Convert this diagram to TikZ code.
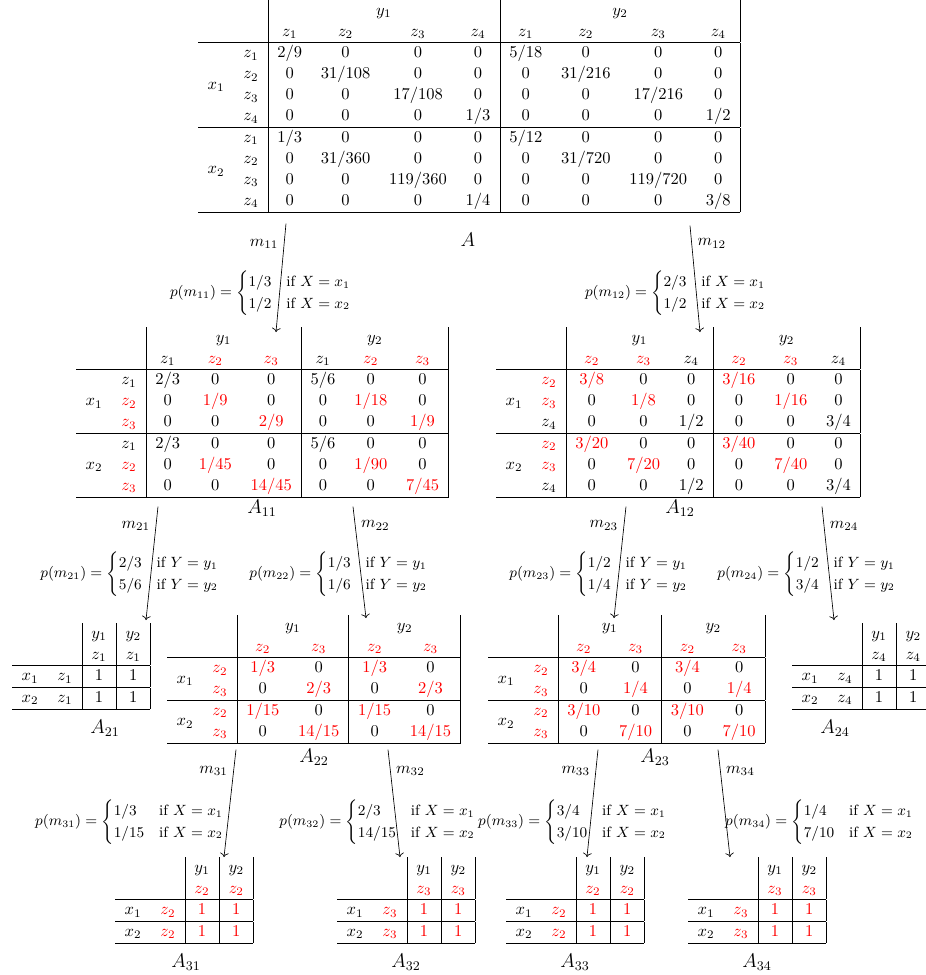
\documentclass[tikz,border=0pt]{standalone}
\usepackage{amsmath}
\usetikzlibrary{calc,arrows.meta}
\definecolor{kept}{HTML}{FF0000}
\newcommand{\kp}[1]{\textcolor{kept}{#1}}
\newcommand{\lowlbl}[1]{\raisebox{-6.4pt}[0pt][0pt]{$#1$}}
\renewcommand{\arraystretch}{1.06}
\setlength{\arraycolsep}{5.7pt}

\begin{document}
\begin{tikzpicture}[x=0.606pt,y=-0.606pt,
  tab/.style={inner sep=0pt,anchor=north west},
  tablbl/.style={font=\large},
  prob/.style={font=\small},
  mapline/.style={->}]
\useasboundingbox (0,0) rectangle (926,975);
% level 0
\node[tab] (A) at (198,0) {$\begin{array}{cc|cccc|cccc|}
 & & \multicolumn{4}{c|}{y_1} & \multicolumn{4}{c|}{y_2}\\
 & & z_1 & z_2 & z_3 & z_4 & z_1 & z_2 & z_3 & z_4\\ \hline
 & z_1 & 2/9 & 0 & 0 & 0 & 5/18 & 0 & 0 & 0\\
 \lowlbl{x_1} & z_2 & 0 & 31/108 & 0 & 0 & 0 & 31/216 & 0 & 0\\
 & z_3 & 0 & 0 & 17/108 & 0 & 0 & 0 & 17/216 & 0\\
 & z_4 & 0 & 0 & 0 & 1/3 & 0 & 0 & 0 & 1/2\\ \hline
 & z_1 & 1/3 & 0 & 0 & 0 & 5/12 & 0 & 0 & 0\\
 \lowlbl{x_2} & z_2 & 0 & 31/360 & 0 & 0 & 0 & 31/720 & 0 & 0\\
 & z_3 & 0 & 0 & 119/360 & 0 & 0 & 0 & 119/720 & 0\\
 & z_4 & 0 & 0 & 0 & 1/4 & 0 & 0 & 0 & 3/8\\ \hline
\end{array}$};
\node[tablbl] (lA) at (468,240) {$A$};

% level 1
\node[tab] (A11) at (76,327) {$\begin{array}{cc|ccc|ccc|}
 & & \multicolumn{3}{c|}{y_1} & \multicolumn{3}{c|}{y_2}\\
 & & z_1 & \kp{z_2} & \kp{z_3} & z_1 & \kp{z_2} & \kp{z_3}\\ \hline
 & z_1 & 2/3 & 0 & 0 & 5/6 & 0 & 0\\
 x_1 & \kp{z_2} & 0 & \kp{1/9} & 0 & 0 & \kp{1/18} & 0\\
 & \kp{z_3} & 0 & 0 & \kp{2/9} & 0 & 0 & \kp{1/9}\\ \hline
 & z_1 & 2/3 & 0 & 0 & 5/6 & 0 & 0\\
 x_2 & \kp{z_2} & 0 & \kp{1/45} & 0 & 0 & \kp{1/90} & 0\\
 & \kp{z_3} & 0 & 0 & \kp{14/45} & 0 & 0 & \kp{7/45}\\ \hline
\end{array}$};
\node[tablbl] (lA11) at (262,508) {$A_{11}$};

\node[tab] (A12) at (496,327) {$\begin{array}{cc|ccc|ccc|}
 & & \multicolumn{3}{c|}{y_1} & \multicolumn{3}{c|}{y_2}\\
 & & \kp{z_2} & \kp{z_3} & z_4 & \kp{z_2} & \kp{z_3} & z_4\\ \hline
 & \kp{z_2} & \kp{3/8} & 0 & 0 & \kp{3/16} & 0 & 0\\
 x_1 & \kp{z_3} & 0 & \kp{1/8} & 0 & 0 & \kp{1/16} & 0\\
 & z_4 & 0 & 0 & 1/2 & 0 & 0 & 3/4\\ \hline
 & \kp{z_2} & \kp{3/20} & 0 & 0 & \kp{3/40} & 0 & 0\\
 x_2 & \kp{z_3} & 0 & \kp{7/20} & 0 & 0 & \kp{7/40} & 0\\
 & z_4 & 0 & 0 & 1/2 & 0 & 0 & 3/4\\ \hline
\end{array}$};
\node[tablbl] (lA12) at (680,508) {$A_{12}$};

\draw[mapline] ($(A.south west)+(88,11)$) -- node[pos=.19,left] (lm11) {$m_{11}$} ($(A11.north west)+(200,5)$);
\draw[mapline] ($(A.south west)+(492,13)$) -- node[pos=.17,right] (lm12) {$m_{12}$} ($(A12.north west)+(204,5)$);
\node[prob] (pm11) at (261,293) {$p(m_{11})=\begin{cases}1/3 & \text{if } X=x_1\\ 1/2 & \text{if } X=x_2\end{cases}$};
\node[prob] (pm12) at (676,293) {$p(m_{12})=\begin{cases}2/3 & \text{if } X=x_1\\ 1/2 & \text{if } X=x_2\end{cases}$};

% level 2
\node[tab] (A21) at (12,623) {$\begin{array}{cc|c|c|}
 & & y_1 & y_2\\
 & & z_1 & z_1\\ \hline
 x_1 & z_1 & 1 & 1\\ \hline
 x_2 & z_1 & 1 & 1\\ \hline
\end{array}$};
\node[tablbl] (lA21) at (105,728) {$A_{21}$};

\node[tab] (A22) at (167,615) {$\begin{array}{cc|cc|cc|}
 & & \multicolumn{2}{c|}{y_1} & \multicolumn{2}{c|}{y_2}\\
 & & \kp{z_2} & \kp{z_3} & \kp{z_2} & \kp{z_3}\\ \hline
 \lowlbl{x_1} & \kp{z_2} & \kp{1/3} & 0 & \kp{1/3} & 0\\
 & \kp{z_3} & 0 & \kp{2/3} & 0 & \kp{2/3}\\ \hline
 \lowlbl{x_2} & \kp{z_2} & \kp{1/15} & 0 & \kp{1/15} & 0\\
 & \kp{z_3} & 0 & \kp{14/15} & 0 & \kp{14/15}\\ \hline
\end{array}$};
\node[tablbl] (lA22) at (314,757) {$A_{22}$};

\node[tab] (A23) at (488,615) {$\begin{array}{cc|cc|cc|}
 & & \multicolumn{2}{c|}{y_1} & \multicolumn{2}{c|}{y_2}\\
 & & \kp{z_2} & \kp{z_3} & \kp{z_2} & \kp{z_3}\\ \hline
 \lowlbl{x_1} & \kp{z_2} & \kp{3/4} & 0 & \kp{3/4} & 0\\
 & \kp{z_3} & 0 & \kp{1/4} & 0 & \kp{1/4}\\ \hline
 \lowlbl{x_2} & \kp{z_2} & \kp{3/10} & 0 & \kp{3/10} & 0\\
 & \kp{z_3} & 0 & \kp{7/10} & 0 & \kp{7/10}\\ \hline
\end{array}$};
\node[tablbl] (lA23) at (655,757) {$A_{23}$};

\node[tab] (A24) at (792,623) {$\begin{array}{cc|c|c|}
 & & y_1 & y_2\\
 & & z_4 & z_4\\ \hline
 x_1 & z_4 & 1 & 1\\ \hline
 x_2 & z_4 & 1 & 1\\ \hline
\end{array}$};
\node[tablbl] (lA24) at (835,728) {$A_{24}$};

\draw[mapline] ($(A11.south west)+(82,9)$) -- node[pos=.17,left] (lm21) {$m_{21}$} ($(A21.north west)+(134,-3)$);
\draw[mapline] ($(A11.south west)+(277,9)$) -- node[pos=.17,right] (lm22) {$m_{22}$} ($(A22.north west)+(199,3)$);
\draw[mapline] ($(A12.south west)+(130,9)$) -- node[pos=.17,left] (lm23) {$m_{23}$} ($(A23.north west)+(126,3)$);
\draw[mapline] ($(A12.south west)+(326,9)$) -- node[pos=.17,right] (lm24) {$m_{24}$} ($(A24.north west)+(42,-3)$);
\node[prob] (pm21) at (130,574) {$p(m_{21})=\begin{cases}2/3 & \text{if } Y=y_1\\ 5/6 & \text{if } Y=y_2\end{cases}$};
\node[prob] (pm22) at (339,574) {$p(m_{22})=\begin{cases}1/3 & \text{if } Y=y_1\\ 1/6 & \text{if } Y=y_2\end{cases}$};
\node[prob] (pm23) at (599,574) {$p(m_{23})=\begin{cases}1/2 & \text{if } Y=y_1\\ 1/4 & \text{if } Y=y_2\end{cases}$};
\node[prob] (pm24) at (807,574) {$p(m_{24})=\begin{cases}1/2 & \text{if } Y=y_1\\ 3/4 & \text{if } Y=y_2\end{cases}$};

% level 3
\node[tab] (A31) at (115,857) {$\begin{array}{cc|c|c|}
 & & y_1 & y_2\\
 & & \kp{z_2} & \kp{z_2}\\ \hline
 x_1 & \kp{z_2} & \kp{1} & \kp{1}\\ \hline
 x_2 & \kp{z_2} & \kp{1} & \kp{1}\\ \hline
\end{array}$};
\node[tablbl] (lA31) at (186,962) {$A_{31}$};

\node[tab] (A32) at (337,857) {$\begin{array}{cc|c|c|}
 & & y_1 & y_2\\
 & & \kp{z_3} & \kp{z_3}\\ \hline
 x_1 & \kp{z_3} & \kp{1} & \kp{1}\\ \hline
 x_2 & \kp{z_3} & \kp{1} & \kp{1}\\ \hline
\end{array}$};
\node[tablbl] (lA32) at (406,962) {$A_{32}$};

\node[tab] (A33) at (506,857) {$\begin{array}{cc|c|c|}
 & & y_1 & y_2\\
 & & \kp{z_2} & \kp{z_2}\\ \hline
 x_1 & \kp{z_2} & \kp{1} & \kp{1}\\ \hline
 x_2 & \kp{z_2} & \kp{1} & \kp{1}\\ \hline
\end{array}$};
\node[tablbl] (lA33) at (575,962) {$A_{33}$};

\node[tab] (A34) at (688,857) {$\begin{array}{cc|c|c|}
 & & y_1 & y_2\\
 & & \kp{z_3} & \kp{z_3}\\ \hline
 x_1 & \kp{z_3} & \kp{1} & \kp{1}\\ \hline
 x_2 & \kp{z_3} & \kp{1} & \kp{1}\\ \hline
\end{array}$};
\node[tablbl] (lA34) at (757,962) {$A_{34}$};

\draw[mapline] ($(A22.south west)+(69,6)$) -- node[pos=.2,left] (lm31) {$m_{31}$} ($(A31.north west)+(109,0)$);
\draw[mapline] ($(A22.south west)+(221,6)$) -- node[pos=.2,right] (lm32) {$m_{32}$} ($(A32.north west)+(63,0)$);
\draw[mapline] ($(A23.south west)+(110,6)$) -- node[pos=.2,left] (lm33) {$m_{33}$} ($(A33.north west)+(81,0)$);
\draw[mapline] ($(A23.south west)+(230,6)$) -- node[pos=.2,right] (lm34) {$m_{34}$} ($(A34.north west)+(42,0)$);
\node[prob] (pm31) at (130,822) {$p(m_{31})=\begin{cases}1/3 & \text{if } X=x_1\\ 1/15 & \text{if } X=x_2\end{cases}$};
\node[prob] (pm32) at (378,822) {$p(m_{32})=\begin{cases}2/3 & \text{if } X=x_1\\ 14/15 & \text{if } X=x_2\end{cases}$};
\node[prob] (pm33) at (573,822) {$p(m_{33})=\begin{cases}3/4 & \text{if } X=x_1\\ 3/10 & \text{if } X=x_2\end{cases}$};
\node[prob] (pm34) at (820,822) {$p(m_{34})=\begin{cases}1/4 & \text{if } X=x_1\\ 7/10 & \text{if } X=x_2\end{cases}$};
\end{tikzpicture}
\end{document}
